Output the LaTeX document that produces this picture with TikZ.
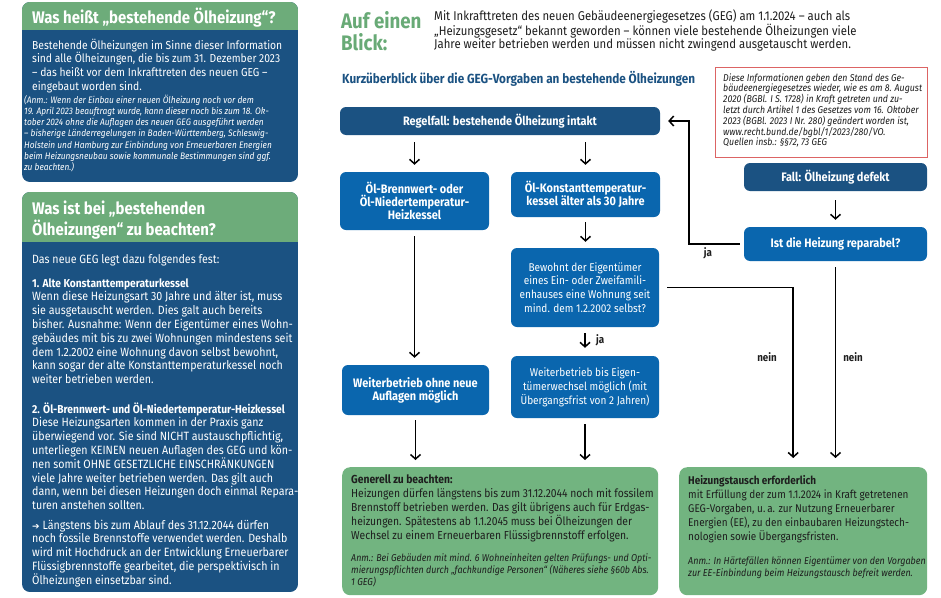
\documentclass[tikz,border=0pt]{standalone}
\usepackage{fontspec}
\setmainfont{Fira Sans}[FakeStretch=0.89]
\newfontfamily\dejavu{DejaVu Sans}
\usetikzlibrary{arrows.meta}
\definecolor{hdgreen}{HTML}{6DAC7A}
\definecolor{boxgreen}{HTML}{72B480}
\definecolor{navy}{HTML}{1B5282}
\definecolor{bblue}{HTML}{0A66AE}
\definecolor{redb}{HTML}{DC6464}
\definecolor{ink}{HTML}{1E1E1E}
\definecolor{titlegreen}{HTML}{68AA76}
\tikzset{
  txt/.style={anchor=base west, inner sep=0pt, align=left},
  wbody/.style={txt, text=white, font=\fontsize{12}{13.8}\selectfont},
  wnote/.style={txt, text=white, font=\itshape\fontsize{9.4}{11.3}\selectfont},
  wtitle/.style={txt, text=white, font=\bfseries\fontsize{16.8}{21}\selectfont},
  gbody/.style={txt, text=ink, font=\fontsize{11.6}{14}\selectfont},
  gnote/.style={txt, text=ink, font=\itshape\fontsize{10}{10}\selectfont},
  flowbox/.style={rounded corners=6pt, inner sep=0pt, align=center, text=white, font=\bfseries\fontsize{12.3}{13.2}\selectfont},
  flowreg/.style={flowbox, font=\fontsize{11.3}{13.8}\selectfont},
  darkbox/.style={fill=navy},
  bluebox/.style={fill=bblue},
  greenbox/.style={fill=boxgreen, rounded corners=8pt, inner sep=0pt, anchor=north west},
  arr/.style={line width=1.5pt, -{Straight Barb[length=4.5pt,width=10pt]}},
  lbl/.style={inner sep=0pt, text=ink, font=\bfseries\fontsize{11}{13}\selectfont},
}
\newcommand\subhd[1]{{\bfseries\fontsize{11.5}{13.8}\selectfont #1}}
\begin{document}
\begin{tikzpicture}[x=1pt,y=-1pt]
\useasboundingbox (0,0) rectangle (941,597);
\fill[white] (0,0) rectangle (941,597);

% ---- left panel 1
\begin{scope}
\clip[rounded corners=8pt] (22,2) rectangle (298,182);
\fill[navy] (22,2) rectangle (298,182);
\fill[hdgreen] (22,2) rectangle (298,30);
\end{scope}
\node[wtitle] (t1) at (32,23) {Was heißt „bestehende Ölheizung“?};
\node[wbody, font=\fontsize{11.6}{13.8}\selectfont] (b1) at (32,90.4) {Bestehende Ölheizungen im Sinne dieser Information\\
sind alle Ölheizungen, die bis zum 31. Dezember 2023\\
– das heißt vor dem Inkrafttreten des neuen GEG –\\
eingebaut worden sind.};
\node[wnote] (n1) at (24,170.8) {(Anm.: Wenn der Einbau einer neuen Ölheizung noch vor dem\\
19. April 2023 beauftragt wurde, kann dieser noch bis zum 18. Ok-\\
tober 2024 ohne die Auflagen des neuen GEG ausgeführt werden\\
– bisherige Länderregelungen in Baden-Württemberg, Schleswig-\\
Holstein und Hamburg zur Einbindung von Erneuerbaren Energien\\
beim Heizungsneubau sowie kommunale Bestimmungen sind ggf.\\
zu beachten.)};

% ---- left panel 2
\begin{scope}
\clip[rounded corners=8pt] (22,192) rectangle (298,592);
\fill[navy] (22,192) rectangle (298,592);
\fill[hdgreen] (22,192) rectangle (298,242);
\end{scope}
\node[wtitle] (t2) at (32,235) {Was ist bei „bestehenden\\Ölheizungen“ zu beachten?};
\node[wbody] (b2a) at (32,263) {Das neue GEG legt dazu folgendes fest:};
\node[wbody] (b2b) at (32,383.6) {\subhd{1. Alte Konstanttemperaturkessel}\\
Wenn diese Heizungsart 30 Jahre und älter ist, muss\\
sie ausgetauscht werden. Dies galt auch bereits\\
bisher. Ausnahme: Wenn der Eigentümer eines Wohn-\\
gebäudes mit bis zu zwei Wohnungen mindestens seit\\
dem 1.2.2002 eine Wohnung davon selbst bewohnt,\\
kann sogar der alte Konstanttemperaturkessel noch\\
weiter betrieben werden.};
\node[wbody] (b2c) at (32,509.6) {\subhd{2. Öl-Brennwert- und Öl-Niedertemperatur-Heizkessel}\\
Diese Heizungsarten kommen in der Praxis ganz\\
überwiegend vor. Sie sind NICHT austauschpflichtig,\\
unterliegen KEINEN neuen Auflagen des GEG und kön-\\
nen somit OHNE GESETZLICHE EINSCHRÄNKUNGEN\\
viele Jahre weiter betrieben werden. Das gilt auch\\
dann, wenn bei diesen Heizungen doch einmal Repara-\\
turen anstehen sollten.};
\node[wbody] (b2d) at (32,584.2) {{\dejavu\fontsize{9}{10}\selectfont ➔} Längstens bis zum Ablauf des 31.12.2044 dürfen\\
noch fossile Brennstoffe verwendet werden. Deshalb\\
wird mit Hochdruck an der Entwicklung Erneuerbarer\\
Flüssigbrennstoffe gearbeitet, die perspektivisch in\\
Ölheizungen einsetzbar sind.};

% ---- header
\node[txt, text=titlegreen, font=\bfseries\fontsize{21}{22}\selectfont] (head) at (341,50) {Auf einen\\Blick:};
\node[txt, text=ink, font=\fontsize{12.75}{12.7}\selectfont] (intro) at (434,48.4) {Mit Inkrafttreten des neuen Gebäudeenergiegesetzes (GEG) am 1.1.2024 – auch als\\
„Heizungsgesetz“ bekannt geworden – können viele bestehende Ölheizungen viele\\
Jahre weiter betrieben werden und müssen nicht zwingend ausgetauscht werden.};
\node[txt, text=navy, font=\bfseries\fontsize{13.2}{16}\selectfont] (kurz) at (342,83) {Kurzüberblick über die GEG-Vorgaben an bestehende Ölheizungen};

% ---- info box
\node[draw=redb, line width=1.2pt, fill=white, inner sep=0pt, minimum width=212pt, minimum height=90pt, anchor=north west] (info) at (715,67) {};
\node[txt, text=ink, font=\itshape\fontsize{9.9}{10.8}\selectfont] (infotxt) at (723,145.8) {Diese Informationen geben den Stand des Ge-\\
bäudeenergiegesetzes wieder, wie es am 8. August\\
2020 (BGBl. I S. 1728) in Kraft getreten und zu-\\
letzt durch Artikel 1 des Gesetzes vom 16. Oktober\\
2023 (BGBl. 2023 I Nr. 280) geändert worden ist,\\
www.recht.bund.de/bgbl/1/2023/280/VO.\\
Quellen insb.: §§72, 73 GEG};

% ---- flow nodes
\node[flowbox, darkbox, minimum width=320pt, minimum height=28pt] (regel) at (500,121) {Regelfall: bestehende Ölheizung intakt};
\node[flowbox, bluebox, minimum width=149pt, minimum height=58pt] (brenn) at (414.5,201) {Öl-Brennwert- oder\\Öl-Niedertemperatur-\\Heizkessel};
\node[flowbox, bluebox, minimum width=149pt, minimum height=45pt] (konst) at (585.5,194.5) {Öl-Konstanttemperatur-\\kessel älter als 30 Jahre};
\node[flowreg, bluebox, minimum width=148pt, minimum height=79pt] (bewohnt) at (585,287.5) {Bewohnt der Eigentümer\\eines Ein- oder Zweifamili-\\enhauses eine Wohnung seit\\mind. dem 1.2.2002 selbst?};
\node[flowreg, bluebox, minimum width=148pt, minimum height=62pt] (eig) at (585,387) {Weiterbetrieb bis Eigen-\\tümerwechsel möglich (mit\\Übergangsfrist von 2 Jahren)};
\node[flowbox, bluebox, minimum width=147pt, minimum height=50pt] (ohne) at (415.5,390) {Weiterbetrieb ohne neue\\Auflagen möglich};
\node[flowbox, darkbox, minimum width=183pt, minimum height=28pt] (fall) at (835.5,177) {Fall: Ölheizung defekt};
\node[flowbox, bluebox, minimum width=183pt, minimum height=34pt] (rep) at (835.5,244) {Ist die Heizung reparabel?};

% ---- green boxes
\node[greenbox, minimum width=316pt, minimum height=128pt] (gen) at (342,467) {};
\node[gbody] (gentxt) at (351,539) {{\bfseries Generell zu beachten:}\\
Heizungen dürfen längstens bis zum 31.12.2044 noch mit fossilem\\
Brennstoff betrieben werden. Das gilt übrigens auch für Erdgas-\\
heizungen. Spätestens ab 1.1.2045 muss bei Ölheizungen der\\
Wechsel zu einem Erneuerbaren Flüssigbrennstoff erfolgen.};
\node[gnote] (gennote) at (351,585) {Anm.: Bei Gebäuden mit mind. 6 Wohneinheiten gelten Prüfungs- und Opti-\\
mierungspflichten durch „fachkundige Personen“ (Näheres siehe §60b Abs.\\
1 GEG)};
\node[greenbox, minimum width=248pt, minimum height=128pt] (tausch) at (679,467) {};
\node[gbody, font=\fontsize{11.2}{14}\selectfont] (tauschtxt) at (688,540) {{\bfseries Heizungstausch erforderlich}\\
mit Erfüllung der zum 1.1.2024 in Kraft getretenen\\
GEG-Vorgaben, u.\,a. zur Nutzung Erneuerbarer\\
Energien (EE), zu den einbaubaren Heizungstech-\\
nologien sowie Übergangsfristen.};
\node[gnote, font=\itshape\fontsize{10.1}{10}\selectfont] (tauschnote) at (688,576) {Anm.: In Härtefällen können Eigentümer von den Vorgaben\\
zur EE-Einbindung beim Heizungstausch befreit werden.};

% ---- connectors
\draw[arr, shorten <=7pt, shorten >=7pt] (regel.south -| brenn.north) -- (brenn.north);
\draw[arr, shorten <=7pt, shorten >=7pt] (regel.south -| konst.north) -- (konst.north);
\draw[arr, shorten <=5pt, shorten >=6pt] (konst.south) -- (konst.south |- bewohnt.north);
\draw[arr, shorten <=6pt, shorten >=8pt] (bewohnt.south) -- (eig.north);
\node[lbl, anchor=west] (ja1) at (596,340) {ja};
\draw[arr, shorten <=6pt, shorten >=7pt] (brenn.south) -- (brenn.south |- ohne.north);
\draw[arr, shorten <=5pt, shorten >=7pt] (ohne.south) -- (ohne.south |- gen.north);
\draw[arr, shorten <=6pt, shorten >=7pt] (eig.south) -- (eig.south |- gen.north);
\draw[arr, shorten <=9pt, shorten >=7pt] (fall.south) -- (rep.north);
\coordinate (jx) at (689,0);
\draw[arr, shorten <=4pt, shorten >=8pt] (rep.west) -| (jx |- regel.east) -- (regel.east);
\node[lbl] (ja2) at (708,253) {ja};
\draw[arr, shorten <=6pt, shorten >=9pt] (rep.south) -- (rep.south |- tausch.north);
\draw[arr, shorten <=8pt, shorten >=9pt] (bewohnt.east) -| ([xshift=-10pt]tausch.north);
\node[lbl] (nein1) at (767,357) {nein};
\node[lbl] (nein2) at (853,357) {nein};
\end{tikzpicture}
\end{document}
